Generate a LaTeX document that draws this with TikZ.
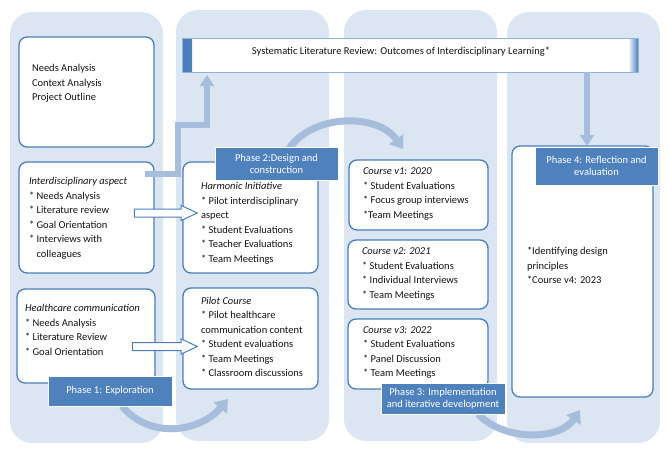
\documentclass[tikz,border=0pt]{standalone}
\usepackage{fontspec}
\setmainfont{Carlito}
\usetikzlibrary{arrows.meta,shapes.arrows,calc}

\definecolor{colbg}{HTML}{DCE6F2}
\definecolor{boxline}{HTML}{4A7EBB}
\definecolor{phasebg}{HTML}{4F81BD}
\definecolor{flowc}{HTML}{A6BDDC}
\definecolor{txtc}{HTML}{141414}

\begin{document}
\begin{tikzpicture}
    [   x=1pt, y=-1pt,
        every node/.style={outer sep=0pt, inner sep=0pt},
        column/.style={fill=colbg, rounded corners=22pt, anchor=north west,
            minimum width=153pt, minimum height=431pt},
        frame/.style 2 args={draw=boxline, line width=1.3pt, fill=white,
            rounded corners=8pt, anchor=north west, minimum width=#1, minimum height=#2},
        scroll/.style={draw=boxline!60, line width=0.6pt, fill=white, anchor=north west,
            minimum width=456pt, minimum height=34pt,
            path picture={
                \shade[left color=boxline, right color=white]
                    (path picture bounding box.north west) rectangle ++(10,34);
                \shade[left color=white, right color=boxline]
                    (path picture bounding box.north east) rectangle ++(-10,34);
            }},
        txt/.style={anchor=west, align=left, text=txtc, font=\fontsize{10.5}{14.5}\selectfont},
        phase/.style 2 args={fill=phasebg, draw=white, line width=0.6pt, text=white,
            align=center, anchor=north west, minimum width=#1, minimum height=#2,
            font=\fontsize{10.5}{12}\selectfont},
        flow/.style={draw=flowc, line width=6pt, -{Triangle[length=11pt,width=14pt]}},
        bendflow/.style={draw=flowc, line width=7pt, -{Triangle[length=12pt,width=17pt]}},
        hollow/.style={single arrow, draw=boxline, fill=white, line width=1pt,
            text height=0pt, text depth=0pt, inner ysep=3.5pt, single arrow head extend=3.5pt,
            single arrow tip angle=50, minimum height=#1},
    ]
    \useasboundingbox (0,0) rectangle (670,456);
    % phase columns
    \foreach \x/\y [count=\i] in {10/12,176/10,344/10,507/12}
        \node[column] (col-\i) at (\x,\y) {};

    % boxes
    \node[frame={135pt}{110pt}] (needs) at (19,37) {};
    \node[frame={135pt}{111pt}] (intd) at (19,162) {};
    \node[frame={138pt}{94pt}] (health) at (17,289) {};
    \node[frame={135pt}{111pt}] (harm) at (183,162) {};
    \node[frame={135pt}{101pt}] (pilot) at (183,288) {};
    \node[frame={139pt}{70pt}] (cv1) at (349,160) {};
    \node[frame={140pt}{69pt}] (cv2) at (348,240) {};
    \node[frame={140pt}{70pt}] (cv3) at (348,319) {};
    \node[frame={141pt}{251pt}] (refl) at (512,146) {};
    \node[scroll] (review) at (182,38) {};

    % light arrows
    \draw[flow] ($(intd.north east)+(-9,12)$) -| (178,125) -| ($(review.south west)+(25,3)$);
    \draw[flow] ($(review.south west)+(405,0)$) -- ($(refl.north west)+(75,0)$);
    \draw[bendflow] ($(harm.north west)+(105,-12)$) .. controls (312,113) and (378,113) .. ($(cv1.north west)+(54,-11)$);
    \draw[bendflow] (122,406) .. controls (150,440) and (200,432) .. ($(pilot.south west)+(45,10)$);
    \draw[bendflow] (478,414) .. controls (505,442) and (560,440) .. ($(refl.south west)+(68,13)$);

    % phase labels
    \node[phase={124pt}{30pt}] (ph1) at (48,376) {Phase 1: Exploration};
    \node[phase={123pt}{33pt}] (ph2) at (215,147) {Phase 2:Design and\\construction};
    \node[phase={124pt}{31pt}] (ph3) at (381,383) {Phase 3: Implementation\\and iterative development};
    \node[phase={123pt}{38pt}] (ph4) at (535,147) {Phase 4: Reflection and\\evaluation};

    % texts
    \node[txt] (needs-txt) at (32,83.5) {Needs Analysis\\Context Analysis\\Project Outline};
    \node[txt] (intd-txt) at (29,218.5) {\textit{Interdisciplinary aspect}\\* Needs Analysis\\* Literature review\\* Goal Orientation\\* Interviews with\\\hphantom{* }colleagues};
    \node[txt] (health-txt) at (25,330) {\textit{Healthcare communication}\\* Needs Analysis\\* Literature Review\\* Goal Orientation};
    \node[txt] (harm-txt) at (201,223.5) {\textit{Harmonic Initiative}\\* Pilot interdisciplinary\\aspect\\* Student Evaluations\\* Teacher Evaluations\\* Team Meetings};
    \node[txt] (pilot-txt) at (201,337) {\textit{Pilot Course}\\* Pilot healthcare\\communication content\\* Student evaluations\\* Team Meetings\\* Classroom discussions};
    \node[txt] (cv1-txt) at (363,194) {\textit{Course v1: 2020}\\* Student Evaluations\\* Focus group interviews\\*Team Meetings};
    \node[txt] (cv2-txt) at (362,274) {\textit{Course v2: 2021}\\* Student Evaluations\\* Individual Interviews\\* Team Meetings};
    \node[txt] (cv3-txt) at (363,352.5) {\textit{Course v3: 2022}\\* Student Evaluations\\* Panel Discussion\\* Team Meetings};
    \node[txt] (refl-txt) at (527,265.5) {*Identifying design\\principles\\*Course v4: 2023};
    \node[txt, anchor=center] (review-txt) at (401,52) {Systematic Literature Review: Outcomes of Interdisciplinary Learning*};

    % hollow arrows
    \node[hollow=63pt] (to-harm) at ($(intd.east)+(7.5,-4.5)$) {};
    \node[hollow=65pt] (to-pilot) at ($(health.east)+(5.5,10.5)$) {};
\end{tikzpicture}
\end{document}
